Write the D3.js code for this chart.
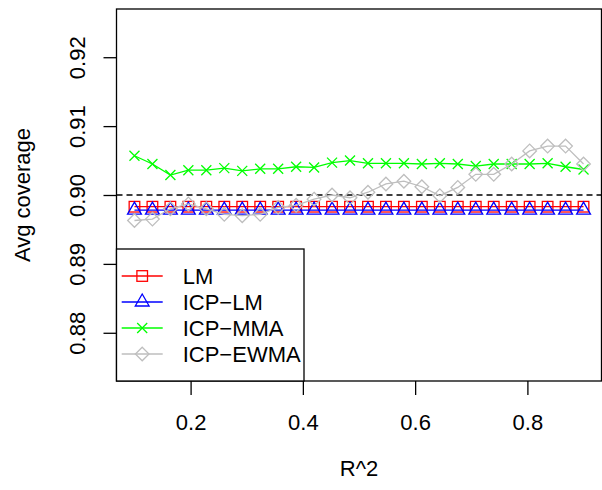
<!DOCTYPE html>
<html lang='en'>
<head>
    <meta charset='UTF-8'>
    <title></title>
    <script src="https://cdn.jsdelivr.net/npm/d3@7"></script>
    <style>
        body { margin: 0; background: #fff; }
        text { font-family: "Liberation Sans", Arial, sans-serif; fill: #000; }
    </style>
</head>
<body>
    <svg class="chart"></svg>
<script>
    // x values: R^2 from 0.1 to 0.9, 26 points
    const r2 = [0.1, 0.132, 0.164, 0.196, 0.228, 0.26, 0.292, 0.324, 0.356, 0.388,
                0.42, 0.452, 0.484, 0.516, 0.548, 0.58, 0.612, 0.644, 0.676, 0.708,
                0.74, 0.772, 0.804, 0.836, 0.868, 0.9];

    const lm = [0.8983, 0.8983, 0.8983, 0.8983, 0.8983, 0.8983, 0.8983, 0.8983, 0.8983, 0.8983,
                0.8983, 0.8983, 0.8983, 0.8983, 0.8983, 0.8983, 0.8983, 0.8983, 0.8983, 0.8983,
                0.8983, 0.8983, 0.8983, 0.8983, 0.8983, 0.8983];
    const icpLm = [0.8978, 0.8978, 0.8978, 0.8978, 0.8978, 0.8978, 0.8978, 0.8978, 0.8978, 0.8978,
                   0.8978, 0.8978, 0.8978, 0.8978, 0.8978, 0.8978, 0.8978, 0.8978, 0.8978, 0.8978,
                   0.8978, 0.8978, 0.8978, 0.8978, 0.8978, 0.8978];
    const icpMma = [0.9057, 0.9045, 0.9029, 0.9036, 0.9036, 0.9039, 0.9035, 0.9038, 0.9038, 0.9041,
                    0.9040, 0.9047, 0.9050, 0.9046, 0.9046, 0.9046, 0.9045, 0.9046, 0.9045, 0.9042,
                    0.9045, 0.9045, 0.9045, 0.9046, 0.9041, 0.9037];
    const icpEwma = [0.8963, 0.8965, 0.8980, 0.8987, 0.8980, 0.8972, 0.8970, 0.8972, 0.8982, 0.8985,
                     0.8994, 0.9000, 0.8996, 0.9004, 0.9016, 0.9020, 0.9012, 0.8999, 0.9011, 0.9030,
                     0.9030, 0.9045, 0.9064, 0.9071, 0.9071, 0.9045];

    const xTicks = [0.2, 0.4, 0.6, 0.8];
    const yTicks = [0.88, 0.89, 0.90, 0.91, 0.92];
    const seriesNames = ['LM', 'ICP\u2212LM', 'ICP\u2212MMA', 'ICP\u2212EWMA'];
    const seriesColors = ['#ff0000', '#0000ff', '#00ff00', '#bebebe'];
    const seriesShapes = ['square', 'triangle', 'cross', 'diamond'];
    const seriesValues = [lm, icpLm, icpMma, icpEwma];

    const width = 602, height = 490;
    const pLeft = 116.5, pRight = 601.5, pTop = 9, pBottom = 381;
    const fs = 22;

    const svg = d3.select('.chart').attr('width', width).attr('height', height);

    // R-style 4% padding on the limits
    const x = d3.scaleLinear().domain([0.068, 0.932]).range([pLeft, pRight]);
    const y = d3.scaleLinear().domain([0.873, 0.927]).range([pBottom, pTop]);

    // marker drawing
    function marker(g, shape, color, cx, cy) {
        if (shape === 'square') {
            g.append('rect').attr('x', cx - 5.3).attr('y', cy - 5.3)
                .attr('width', 10.6).attr('height', 10.6)
                .attr('fill', 'none').attr('stroke', color).attr('stroke-width', 1.3);
        } else if (shape === 'triangle') {
            const r = 8;
            g.append('path')
                .attr('d', `M${cx},${cy - r}L${cx + 0.866 * r},${cy + 0.5 * r}L${cx - 0.866 * r},${cy + 0.5 * r}Z`)
                .attr('fill', 'none').attr('stroke', color).attr('stroke-width', 1.3);
        } else if (shape === 'cross') {
            const h = 5;
            g.append('path')
                .attr('d', `M${cx - h},${cy - h}L${cx + h},${cy + h}M${cx - h},${cy + h}L${cx + h},${cy - h}`)
                .attr('fill', 'none').attr('stroke', color).attr('stroke-width', 1.3);
        } else {
            const h = 6.8;
            g.append('path')
                .attr('d', `M${cx},${cy - h}L${cx + h},${cy}L${cx},${cy + h}L${cx - h},${cy}Z`)
                .attr('fill', 'none').attr('stroke', color).attr('stroke-width', 1.3);
        }
    }

    // reference line at 0.90
    svg.append('line')
        .attr('x1', pLeft).attr('x2', pRight)
        .attr('y1', y(0.90)).attr('y2', y(0.90))
        .attr('stroke', '#000').attr('stroke-width', 1.3)
        .attr('stroke-dasharray', '6,4');

    // series
    const line = d3.line().x((d, i) => x(r2[i])).y(d => y(d));
    seriesValues.forEach((vals, k) => {
        const g = svg.append('g');
        g.append('path').attr('d', line(vals))
            .attr('fill', 'none').attr('stroke', seriesColors[k]).attr('stroke-width', 1.3);
        vals.forEach((v, i) => marker(g, seriesShapes[k], seriesColors[k], x(r2[i]), y(v)));
    });

    // axes
    const xAxis = svg.append('g').attr('transform', `translate(0,${pBottom})`)
        .call(d3.axisBottom(x).tickValues(xTicks).tickSize(14)
            .tickFormat(d3.format('.1f')));
    const yAxis = svg.append('g').attr('transform', `translate(${pLeft},0)`)
        .call(d3.axisLeft(y).tickValues(yTicks).tickSize(13).tickFormat(d3.format('.2f')));
    [xAxis, yAxis].forEach(a => {
        a.select('.domain').remove();
        a.selectAll('.tick line').attr('stroke', '#000').attr('stroke-width', 1.3);
        a.selectAll('text').style('font-size', fs + 'px').attr('font-family', null);
    });
    xAxis.selectAll('.tick text').attr('dy', null).attr('y', 430 - pBottom);
    yAxis.selectAll('.tick text')
        .attr('x', null).attr('dy', null)
        .attr('text-anchor', 'middle')
        .attr('transform', 'translate(' + (85 - pLeft) + ',0) rotate(-90)');

    // box
    svg.append('rect').attr('x', pLeft).attr('y', pTop)
        .attr('width', pRight - pLeft).attr('height', pBottom - pTop)
        .attr('fill', 'none').attr('stroke', '#000').attr('stroke-width', 1.3);

    // axis titles
    svg.append('text').attr('x', (pLeft + pRight) / 2).attr('y', 476)
        .attr('text-anchor', 'middle').style('font-size', fs + 'px').text('R^2');
    svg.append('text')
        .attr('transform', `translate(30,${(pTop + pBottom) / 2}) rotate(-90)`)
        .attr('text-anchor', 'middle').style('font-size', fs + 'px').text('Avg coverage');

    // legend
    const lg = svg.append('g');
    lg.append('rect').attr('x', pLeft).attr('y', 249)
        .attr('width', 304 - pLeft).attr('height', pBottom - 249)
        .attr('fill', '#fff').attr('stroke', '#000').attr('stroke-width', 1.3);
    seriesNames.forEach((name, k) => {
        const ry = 276 + k * 26;
        lg.append('line').attr('x1', 121.7).attr('x2', 162.7).attr('y1', ry).attr('y2', ry)
            .attr('stroke', seriesColors[k]).attr('stroke-width', 1.3);
        marker(lg, seriesShapes[k], seriesColors[k], 142.2, ry);
        lg.append('text').attr('x', 182.7).attr('y', ry).attr('dy', '0.35em')
            .style('font-size', fs + 'px').text(name);
    });
</script>
</body>
</html>
